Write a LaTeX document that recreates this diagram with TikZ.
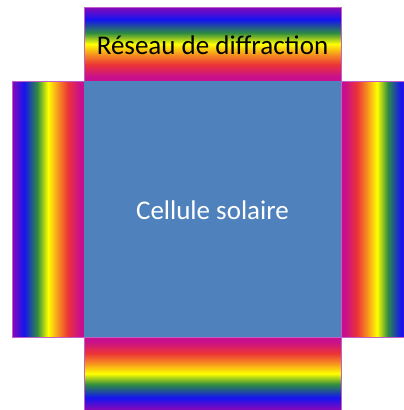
\documentclass[tikz,border=0pt]{standalone}
\usepackage{fontspec}
\setmainfont{Carlito}
\definecolor{rvio}{HTML}{8A08B8}
\definecolor{rblu}{HTML}{1414F0}
\definecolor{rgre}{HTML}{2E8C40}
\definecolor{ryel}{HTML}{FFFF00}
\definecolor{rora}{HTML}{F58A20}
\definecolor{rred}{HTML}{EC3238}
\definecolor{rmag}{HTML}{C8108C}
\definecolor{cellblue}{HTML}{4F81BD}
\definecolor{bandline}{HTML}{C060C8}
% outer -> inner
\pgfdeclarehorizontalshading{rainLR}{100bp}{color(0bp)=(rvio); color(25bp)=(rvio); color(33.5bp)=(rblu); color(42.5bp)=(rgre); color(50bp)=(ryel); color(57.5bp)=(rora); color(64bp)=(rred); color(72bp)=(rmag); color(100bp)=(rmag)}
\pgfdeclarehorizontalshading{rainRL}{100bp}{color(0bp)=(rmag); color(28bp)=(rmag); color(36bp)=(rred); color(42.5bp)=(rora); color(50bp)=(ryel); color(57.5bp)=(rgre); color(66.5bp)=(rblu); color(75bp)=(rvio); color(100bp)=(rvio)}
\pgfdeclareverticalshading{rainBT}{100bp}{color(0bp)=(rvio); color(25bp)=(rvio); color(33.5bp)=(rblu); color(42.5bp)=(rgre); color(50bp)=(ryel); color(57.5bp)=(rora); color(64bp)=(rred); color(72bp)=(rmag); color(100bp)=(rmag)}
\pgfdeclareverticalshading{rainTB}{100bp}{color(0bp)=(rmag); color(28bp)=(rmag); color(36bp)=(rred); color(42.5bp)=(rora); color(50bp)=(ryel); color(57.5bp)=(rgre); color(66.5bp)=(rblu); color(75bp)=(rvio); color(100bp)=(rvio)}
\tikzset{
  band/.style={draw=bandline, line width=0.4pt},
  label/.style={font=\fontsize{27}{32}\selectfont, inner sep=0pt}
}
\begin{document}
\begin{tikzpicture}[x=1pt,y=-1pt]
\useasboundingbox (0,0) rectangle (404,410);
\clip (0,0) rectangle (404,410);
% top band
\path[band, shading=rainTB] (84,7) rectangle (341,81);
% bottom band
\path[band, shading=rainBT] (84,337) rectangle (341,410);
% left band
\path[band, shading=rainLR] (12,81) rectangle (84,337);
% right band
\path[band, shading=rainRL] (341,81) rectangle (413,337);
% cell
\node[fill=cellblue, minimum width=257pt, minimum height=256pt, inner sep=0pt, anchor=north west] (cell) at (84,81) {};
\node[label, text=white] (celltext) at (212.5,210) {Cellule solaire};
\node[label, text=black] (reseau) at (212.5,45) {Réseau de diffraction};
\end{tikzpicture}
\end{document}
